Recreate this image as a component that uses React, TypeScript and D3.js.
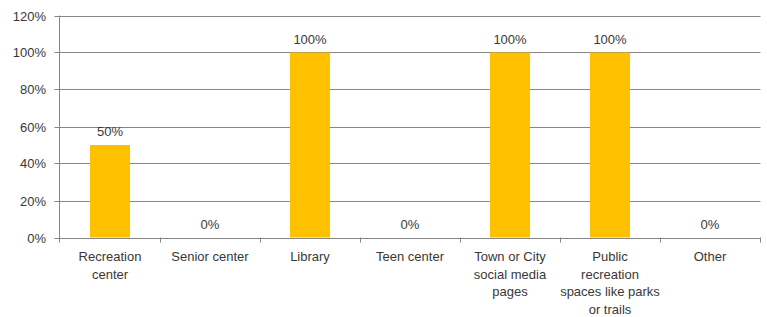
import React from "react";
import * as d3 from "d3";

const categories: string[][] = [
  ["Recreation", "center"],
  ["Senior center"],
  ["Library"],
  ["Teen center"],
  ["Town or City", "social media", "pages"],
  ["Public", "recreation", "spaces like parks", "or trails"],
  ["Other"],
];
const values: number[] = [0.5, 0, 1, 0, 1, 1, 0];
const yTicks: number[] = [0, 0.2, 0.4, 0.6, 0.8, 1.0, 1.2];

const W = 767;
const H = 317;
const margin = { left: 60, right: 7, top: 15, bottom: 80 };
const FONT = "'Liberation Sans', Arial, sans-serif";
const TEXT = "#383838";
const GRID = "#868686";
const FS = 13;

export default function App() {
  const keys = categories.map((_, i) => String(i));
  const x = d3
    .scaleBand<string>()
    .domain(keys)
    .range([margin.left, W - margin.right])
    .paddingInner(0.6)
    .paddingOuter(0.3);
  const xCat = d3.scaleBand<string>().domain(keys).range([margin.left, W - margin.right]);
  const y = d3.scaleLinear().domain([0, 1.2]).range([237.5, 15.5]);
  const fmt = d3.format(".0%");
  const x0 = margin.left - 0.5;
  const x1 = W - margin.right + 0.5;

  return (
    <svg width={W} height={H} style={{ position: "absolute", left: 0, top: 0, background: "#fff" }}>
      {yTicks.map((t) => (
        <g key={t}>
          <line x1={x0 - 5} x2={x1} y1={Math.round(y(t)) + 0.5} y2={Math.round(y(t)) + 0.5} stroke={GRID} strokeWidth={1} />
          <text
            x={46}
            y={Math.round(y(t)) + 0.5}
            dy="0.35em"
            textAnchor="end"
            fontFamily={FONT}
            fontSize={FS}
            fill={TEXT}
          >
            {fmt(t)}
          </text>
        </g>
      ))}
      <line x1={x0} x2={x0} y1={y(1.2)} y2={y(0) + 5} stroke={GRID} />
      {keys.map((k) => (
        <line
          key={"t" + k}
          x1={Math.round(xCat(k)! + xCat.bandwidth()) + 0.5}
          x2={Math.round(xCat(k)! + xCat.bandwidth()) + 0.5}
          y1={y(0)}
          y2={y(0) + 5}
          stroke={GRID}
        />
      ))}
      {values.map((v, i) => (
        <g key={"b" + i}>
          {v > 0 && (
            <rect
              x={x(String(i))!}
              width={x.bandwidth()}
              y={y(v)}
              height={y(0) - y(v)}
              fill="#FFC000"
            />
          )}
          <text
            x={x(String(i))! + x.bandwidth() / 2}
            y={y(v) - 9}
            textAnchor="middle"
            fontFamily={FONT}
            fontSize={FS}
            fill={TEXT}
          >
            {fmt(v)}
          </text>
        </g>
      ))}
      {categories.map((lines, i) => (
        <text
          key={"c" + i}
          x={xCat(String(i))! + xCat.bandwidth() / 2}
          y={261}
          textAnchor="middle"
          fontFamily={FONT}
          fontSize={FS}
          fill={TEXT}
        >
          {lines.map((l, j) => (
            <tspan key={j} x={xCat(String(i))! + xCat.bandwidth() / 2} dy={j === 0 ? 0 : 17.7}>
              {l}
            </tspan>
          ))}
        </text>
      ))}
    </svg>
  );
}
